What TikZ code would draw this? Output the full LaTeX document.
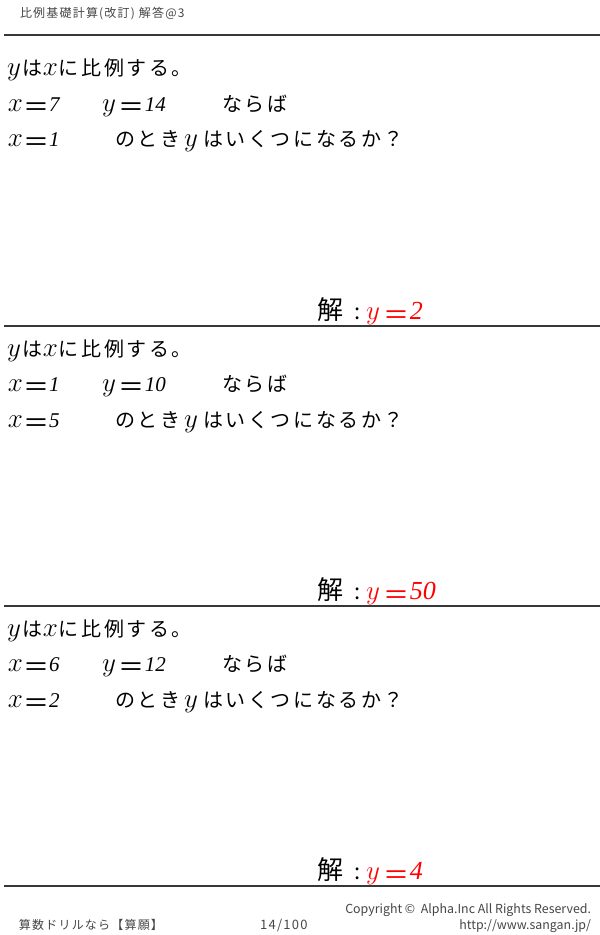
\RequirePackage{fix-cm}
\documentclass[tikz,border=0pt]{standalone}
\usepackage{fontspec}
\newfontfamily\jp[LetterSpace=10]{Noto Sans CJK JP}
\newfontfamily\jpw[LetterSpace=13]{Noto Sans CJK JP}
\newfontfamily\jplain{Noto Sans CJK JP}
\newfontfamily\numfont{Liberation Serif}
\definecolor{ansred}{RGB}{255,0,0}
\definecolor{rulegray}{RGB}{55,55,55}
\definecolor{headgray}{RGB}{70,70,70}
\newcommand{\mv}[1]{{\fontsize{27}{27}\selectfont$#1$}}
\newcommand{\jeq}{\raisebox{-5pt}{\jplain\fontsize{26}{26}\selectfont ＝}}
\newcommand{\qn}[1]{{\numfont\fontsize{21}{21}\selectfont\itshape #1}}
\newcommand{\an}[1]{{\numfont\fontsize{26}{26}\selectfont\itshape #1}}
\newcommand{\jt}{\jpw\fontsize{20}{20}\selectfont}
\newcommand{\qline}{のとき\kern4pt\mv{y}\kern5pt はいくつになるか？}
\tikzset{
  txt/.style={inner sep=0pt, outer sep=0pt, anchor=base west, font=\jt},
  small/.style={inner sep=0pt, outer sep=0pt, anchor=base west, text=headgray, font=\jp\fontsize{12}{12}\selectfont},
  smallr/.style={inner sep=0pt, outer sep=0pt, anchor=base east, text=headgray, font=\jplain\fontsize{12.4}{12.4}\selectfont},
  divider/.style={draw=rulegray, line width=1.3pt},
  ans/.style={inner sep=0pt, outer sep=0pt, anchor=base west, text=ansred, font=\jt},
  colon/.style={inner sep=0pt, outer sep=0pt, anchor=base, font=\jplain\fontsize{22}{22}\selectfont}
}
\begin{document}
\begin{tikzpicture}[x=1pt,y=-1pt]
\useasboundingbox[fill=white] (0,0) rectangle (600,935);
% header
\node[small] (head) at (20,17) {比例基礎計算(改訂)\kern4pt 解答@3};
\draw[divider] (4,35) -- (600,35);
% block 1
\node[txt] (a1) at (7,75) {\mv{y}\kern2pt は\mv{x}\kern1pt に比例する。};
\node[txt] (a2) at (8,111) {\mv{x}\jeq\qn{7}};
\node[txt] (a3) at (102,111) {\mv{y}\kern3pt\jeq\qn{14}};
\node[txt] (a4) at (222,111) {ならば};
\node[txt] (a5) at (8,146) {\mv{x}\jeq\qn{1}};
\node[txt] (a6) at (115,146) {\qline};
\node[txt, font=\jplain\fontsize{26}{26}\selectfont] (a7) at (317,319) {解};
\node[colon] (a8) at (358,319) {:};
\node[ans] (a9) at (366,319) {\mv{y}\kern4pt\jeq\an{2}};
\draw[divider] (4,326) -- (600,326);
% block 2
\node[txt] (b1) at (7,356) {\mv{y}\kern2pt は\mv{x}\kern1pt に比例する。};
\node[txt] (b2) at (8,391) {\mv{x}\jeq\qn{1}};
\node[txt] (b3) at (102,391) {\mv{y}\kern3pt\jeq\qn{10}};
\node[txt] (b4) at (222,391) {ならば};
\node[txt] (b5) at (8,427) {\mv{x}\jeq\qn{5}};
\node[txt] (b6) at (115,427) {\qline};
\node[txt, font=\jplain\fontsize{26}{26}\selectfont] (b7) at (317,599) {解};
\node[colon] (b8) at (358,599) {:};
\node[ans] (b9) at (366,599) {\mv{y}\kern4pt\jeq\an{50}};
\draw[divider] (4,606) -- (600,606);
% block 3
\node[txt] (c1) at (7,636) {\mv{y}\kern2pt は\mv{x}\kern1pt に比例する。};
\node[txt] (c2) at (8,671) {\mv{x}\jeq\qn{6}};
\node[txt] (c3) at (102,671) {\mv{y}\kern3pt\jeq\qn{12}};
\node[txt] (c4) at (222,671) {ならば};
\node[txt] (c5) at (8,707) {\mv{x}\jeq\qn{2}};
\node[txt] (c6) at (115,707) {\qline};
\node[txt, font=\jplain\fontsize{26}{26}\selectfont] (c7) at (317,879) {解};
\node[colon] (c8) at (358,879) {:};
\node[ans] (c9) at (366,879) {\mv{y}\kern4pt\jeq\an{4}};
\draw[divider] (4,886) -- (600,886);
% footer
\node[small] (f1) at (19,929) {算数ドリルなら【算願】};
\node[small, font=\jp\fontsize{13}{13}\selectfont] (f2) at (260,929) {14/100};
\node[smallr] (f3) at (591,913) {Copyright ©\ \ Alpha.Inc All Rights Reserved.};
\node[smallr] (f4) at (591,929) {http://www.sangan.jp/};
\end{tikzpicture}
\end{document}
